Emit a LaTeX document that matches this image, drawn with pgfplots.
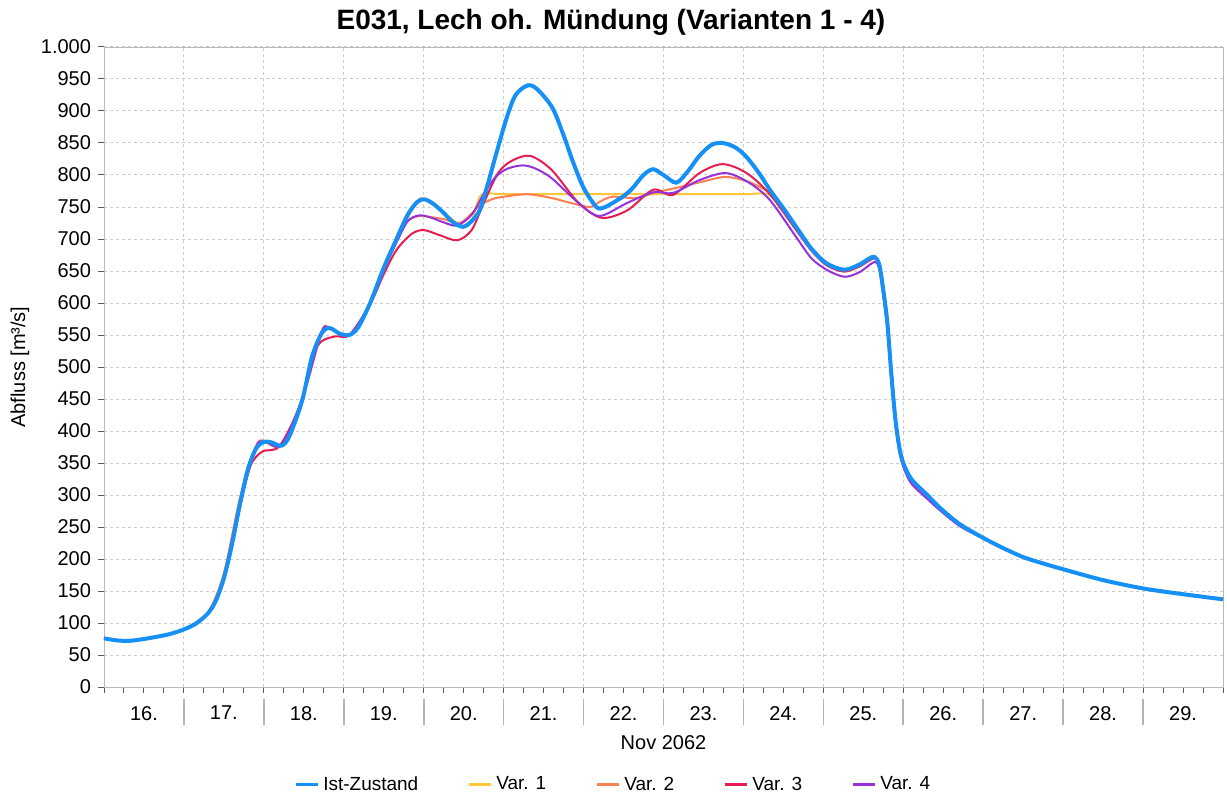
\documentclass[border=0pt]{standalone}
\usepackage{pgfplots}
\pgfplotsset{compat=1.18}
\usepackage{fontspec}
\setmainfont{Liberation Sans}
\definecolor{cIst}{RGB}{22,144,245}
\definecolor{cV1}{RGB}{255,200,60}
\definecolor{cV2}{RGB}{255,127,80}
\definecolor{cV3}{RGB}{230,30,80}
\definecolor{cV4}{RGB}{150,50,220}
\begin{document}
\begin{tikzpicture}
\path[use as bounding box] (-52pt,-56pt) rectangle (561.5pt,343.5pt);
\begin{axis}[
  scale only axis, width=559.5pt, height=320pt,
  xmin=16, xmax=30, ymin=0, ymax=1000,
  clip=false,
  axis line style={gray!55},
  tick style={gray!70!black, line width=0.5pt},
  tick align=outside,
  tick pos=left,
  major tick length=3pt, minor tick length=3pt,
  xtick={16,...,30}, xticklabels={},
  minor x tick num=3,
  extra x ticks={16.5,17.5,...,29.5},
  extra x tick labels={16.,17.,18.,19.,20.,21.,22.,23.,24.,25.,26.,27.,28.,29.},
  extra x tick style={major tick length=0pt, grid=none, xticklabel style={yshift=-6pt}},
  ytick distance=50,
  /pgf/number format/1000 sep={.},
  /pgf/number format/assume math mode=true,
  ticklabel style={font=\fontsize{10}{12}\selectfont},
  grid=major,
  grid style={gray!40, dash pattern=on 1.5pt off 1.5pt, line width=0.5pt},
  title={\textbf{E031, Lech oh. Mündung (Varianten 1 - 4)}},
  every axis title/.style={at={(axis description cs:0.453,1)}, anchor=center, yshift=12.5pt, font=\fontsize{14}{16}\selectfont},
  xlabel={Nov 2062},
  every axis x label/.style={at={(axis description cs:0.5,0)}, anchor=center, yshift=-28pt, font=\fontsize{10}{12}\selectfont},
  ylabel={Abfluss [m³/s]},
  every axis y label/.style={at={([xshift=-42pt]axis description cs:0,0.5)}, anchor=center, rotate=90, font=\fontsize{10}{12}\selectfont},
  legend columns=-1,
  legend style={at={(axis description cs:0.456,-0.153)}, anchor=center, draw=none, fill=none,
    font=\fontsize{9.5}{11}\selectfont,
    /tikz/every even column/.append style={column sep=22.5pt}},
  legend image code/.code={\draw[#1, line width=1.5pt] (0pt,0pt) -- (11pt,0pt);},
  every axis plot/.append style={smooth, tension=0.5},
]
\addlegendimage{cIst}\addlegendentry{Ist-Zustand}
\addlegendimage{cV1}\addlegendentry{Var. 1}
\addlegendimage{cV2}\addlegendentry{Var. 2}
\addlegendimage{cV3}\addlegendentry{Var. 3}
\addlegendimage{cV4}\addlegendentry{Var. 4}

% Var. 1
\addplot[cV1, line width=1pt, forget plot] coordinates {
(16.0,76)(16.3,72)(16.8,82)(17.0,90)(17.3,115)(17.5,170)(17.7,285)(17.9,372)(18.0,383)(18.22,377)
(18.48,448)(18.72,552)(18.82,561)(19.07,550)(19.33,600)(19.66,700)(19.92,758)(20.01,762)(20.24,742)
(20.49,719)(20.6,728)(20.72,769)(21.0,770)(22.0,770)(23.0,770)(24.0,770)(24.3,770)(24.5,748)(24.66,719)
(24.85,685)(25.04,662)(25.26,652)(25.45,660)(25.64,672)(25.7,660)(25.75,620)(25.8,570)(25.85,490)
(25.9,420)(25.95,375)(26.0,350)(26.1,325)(26.3,300)(26.45,281)(26.7,255)(27.0,233)(27.5,203)(28.0,184)
(28.5,167)(29.0,154)(29.5,145)(30.0,137)};
% Var. 2
\addplot[cV2, line width=1pt, forget plot] coordinates {
(16.0,76)(16.3,72)(16.8,82)(17.0,90)(17.3,117)(17.5,178)(17.7,295)(17.9,376)(18.0,385)(18.22,378)
(18.48,452)(18.72,555)(18.82,562)(19.07,550)(19.33,600)(19.5,652)(19.66,695)(19.8,728)(19.95,736)
(20.1,734)(20.25,731)(20.45,725)(20.6,740)(20.7,752)(20.85,762)(21.0,766)(21.3,770)(21.6,764)
(21.85,756)(22.08,750)(22.2,758)(22.36,766)(22.66,764)(22.91,773)(23.2,781)(23.5,790)(23.78,797)
(24.07,789)(24.33,772)(24.5,748)(24.66,719)(24.85,685)(25.04,662)(25.26,652)(25.45,660)(25.64,672)
(25.7,658)(25.75,615)(25.8,560)(25.85,480)(25.9,412)(25.95,370)(26.0,347)(26.1,323)(26.3,298)
(26.45,280)(26.7,255)(27.0,233)(27.5,203)(28.0,184)(28.5,167)(29.0,154)(29.5,145)(30.0,137)};
% Var. 3
\addplot[cV3, line width=1pt, forget plot] coordinates {
(16.0,76)(16.3,72)(16.8,82)(17.0,90)(17.3,115)(17.5,168)(17.7,280)(17.83,345)(17.98,368)(18.2,377)
(18.48,448)(18.6,515)(18.72,540)(18.9,548)(19.07,550)(19.33,598)(19.5,645)(19.66,683)(19.85,708)
(20.0,714)(20.2,706)(20.42,698)(20.6,714)(20.75,756)(20.93,803)(21.1,822)(21.33,830)(21.6,808)
(21.94,756)(22.23,733)(22.55,745)(22.87,777)(23.12,769)(23.45,803)(23.74,817)(24.04,803)(24.33,770)
(24.66,714)(24.85,682)(25.04,659)(25.26,649)(25.45,657)(25.64,670)(25.7,658)(25.75,615)(25.8,565)
(25.85,485)(25.9,416)(25.95,372)(26.0,348)(26.1,323)(26.3,298)(26.45,280)(26.7,255)(27.0,233)
(27.5,203)(28.0,184)(28.5,167)(29.0,154)(29.5,145)(30.0,137)};
% Var. 4
\addplot[cV4, line width=1pt, forget plot] coordinates {
(16.0,76)(16.3,72)(16.8,82)(17.0,90)(17.3,115)(17.5,172)(17.7,288)(17.9,374)(18.0,384)(18.22,378)
(18.48,450)(18.72,554)(18.82,561)(19.07,550)(19.33,600)(19.5,652)(19.66,695)(19.8,728)(19.95,737)
(20.1,733)(20.25,726)(20.42,721)(20.6,738)(20.75,770)(20.9,797)(21.05,810)(21.24,815)(21.4,810)
(21.6,795)(21.94,756)(22.2,736)(22.54,756)(22.87,773)(23.12,772)(23.45,792)(23.78,803)(24.07,788)
(24.33,761)(24.66,703)(24.85,670)(25.04,652)(25.26,641)(25.45,648)(25.64,664)(25.7,652)(25.75,610)
(25.8,560)(25.85,480)(25.9,412)(25.95,368)(26.0,344)(26.1,318)(26.3,294)(26.45,277)(26.7,252)
(27.0,232)(27.5,203)(28.0,184)(28.5,167)(29.0,154)(29.5,145)(30.0,137)};
% Ist-Zustand
\addplot[cIst, line width=2pt, forget plot] coordinates {
(16.0,76)(16.15,73)(16.3,72)(16.5,75)(16.8,82)(17.0,90)(17.15,99)(17.3,115)(17.4,135)(17.5,170)
(17.6,222)(17.7,285)(17.8,340)(17.9,372)(18.0,383)(18.1,382)(18.22,377)(18.32,392)(18.48,448)
(18.6,515)(18.72,552)(18.82,561)(18.95,552)(19.07,550)(19.18,562)(19.33,600)(19.5,655)(19.66,700)
(19.8,738)(19.92,758)(20.01,762)(20.12,755)(20.24,742)(20.36,727)(20.49,719)(20.6,728)(20.7,745)
(20.8,785)(20.9,830)(21.04,890)(21.15,925)(21.3,940)(21.42,934)(21.61,905)(21.75,862)(21.86,823)
(22.0,780)(22.16,750)(22.25,749)(22.36,756)(22.5,767)(22.61,779)(22.75,800)(22.87,809)(23.0,800)
(23.16,788)(23.3,805)(23.45,830)(23.6,847)(23.74,850)(23.9,843)(24.04,828)(24.2,802)(24.33,777)
(24.5,748)(24.66,719)(24.85,685)(25.04,662)(25.26,652)(25.45,660)(25.58,670)(25.64,672)(25.7,660)
(25.75,620)(25.8,570)(25.85,490)(25.9,420)(25.95,375)(26.0,350)(26.1,325)(26.3,300)(26.45,281)
(26.7,255)(27.0,233)(27.25,217)(27.5,203)(27.75,193)(28.0,184)(28.5,167)(29.0,154)(29.5,145)(30.0,137)};

\pgfplotsinvokeforeach{17,18,19,20,21,22,23,24,25,26,27,28,29}{
  \draw[gray!60, line width=0.8pt] ([yshift=-6pt]axis cs:#1,0) -- ([yshift=-19pt]axis cs:#1,0);
}
\end{axis}
\end{tikzpicture}
\end{document}
